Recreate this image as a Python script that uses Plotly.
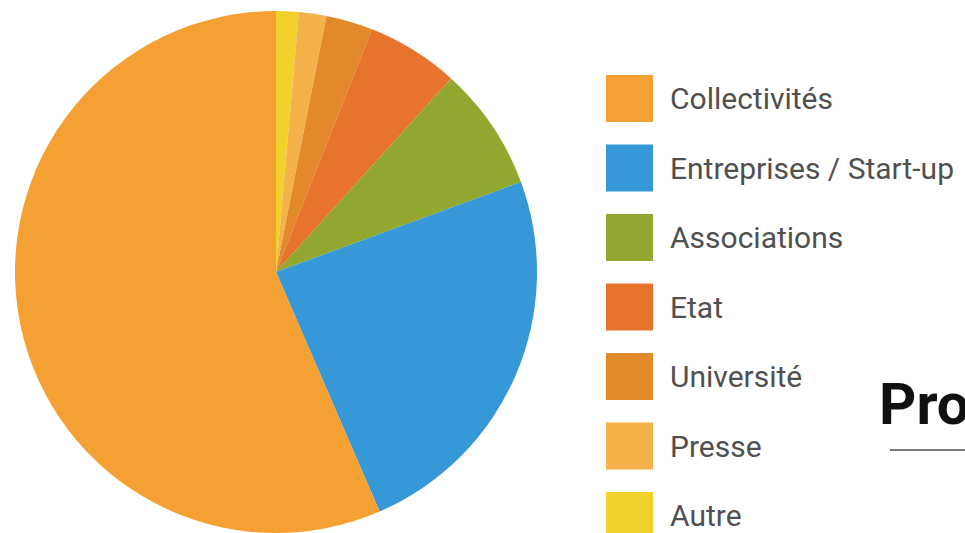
import plotly.graph_objects as go

labels = ["Collectivités", "Entreprises / Start-up", "Associations", "Etat",
          "Université", "Presse", "Autre"]
values = [56.5, 24.1, 7.7, 5.7, 2.9, 1.7, 1.4]
colors = ["#F4A032", "#3698D6", "#93A830", "#E8732C", "#E2892C", "#F6B24A", "#F2D12C"]
title_text = "Pro"

W, H = 965, 533
fig = go.Figure()
# slices run clockwise from 12 o'clock starting with the last legend entry
fig.add_trace(go.Pie(
    labels=labels[::-1], values=values[::-1], sort=False, direction="clockwise",
    rotation=0, textinfo="none", hoverinfo="label+percent",
    marker=dict(colors=colors[::-1], line=dict(width=0)),
    domain=dict(x=[15 / W, 537 / W], y=[0, 522 / H]),
    showlegend=False,
))

shapes = []
annotations = []
for i, (lab, col) in enumerate(zip(labels, colors)):
    cy = 98.5 + 69.5 * i
    shapes.append(dict(type="rect", xref="paper", yref="paper",
                       x0=606 / W, x1=653 / W,
                       y0=1 - (cy + 23.5) / H, y1=1 - (cy - 23.5) / H,
                       fillcolor=col, line=dict(width=0)))
    annotations.append(dict(text=lab, xref="paper", yref="paper",
                            x=668 / W, y=1 - cy / H, xanchor="left", yanchor="middle",
                            showarrow=False,
                            font=dict(family="Roboto", size=30, color="#505050")))

annotations.append(dict(text="<b>" + title_text + "</b>", xref="paper", yref="paper",
                        x=877 / W, y=1 - 404 / H, xanchor="left", yanchor="middle",
                        showarrow=False,
                        font=dict(family="Roboto", size=58, color="#111111", weight=900)))
shapes.append(dict(type="line", xref="paper", yref="paper",
                   x0=890 / W, x1=1.0, y0=1 - 450 / H, y1=1 - 450 / H,
                   line=dict(color="#777777", width=2)))

fig.update_layout(width=W, height=H, margin=dict(l=0, r=0, t=0, b=0),
                  paper_bgcolor="white", plot_bgcolor="white",
                  shapes=shapes, annotations=annotations)
fig.write_html("out.html", config={"displayModeBar": False},
               post_script="document.body.style.margin='0';")
